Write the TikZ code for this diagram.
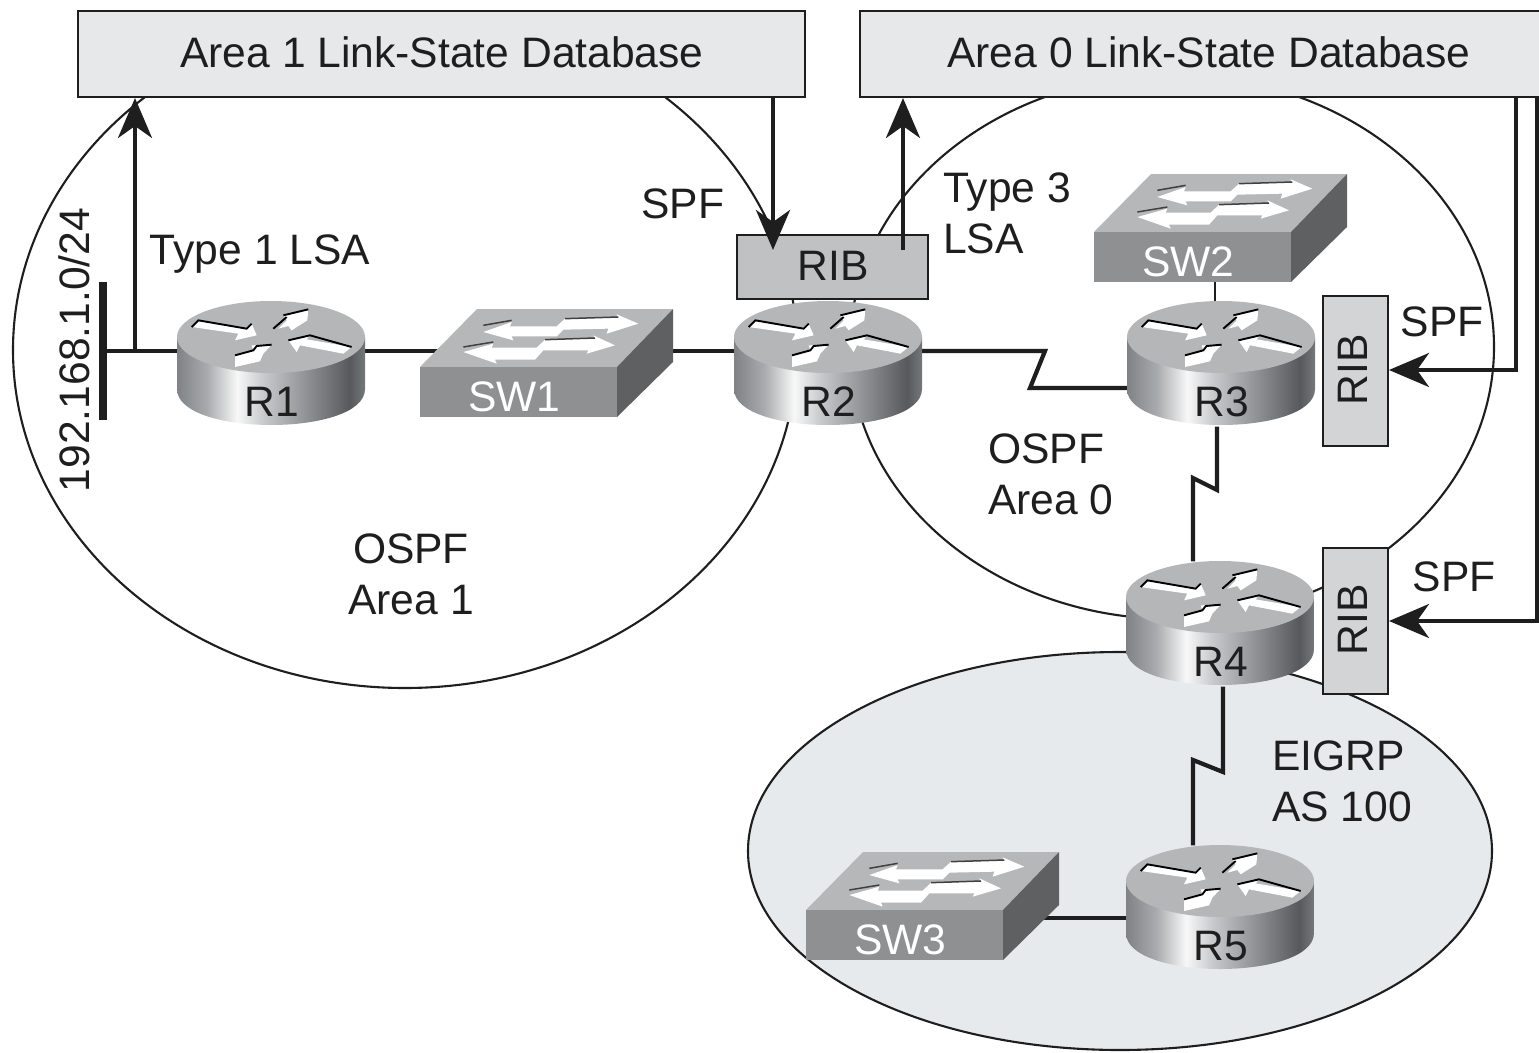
\documentclass[tikz,border=0pt]{standalone}
\usepackage{fontspec}
\setmainfont{Liberation Sans}
\usetikzlibrary{arrows.meta}
\pgfdeclarelayer{back}
\pgfsetlayers{back,main}
\definecolor{ink}{HTML}{1E1E1E}
\definecolor{dbfill}{HTML}{E6E8EA}
\definecolor{ribdark}{HTML}{BFC1C3}
\definecolor{riblight}{HTML}{D2D4D6}
\definecolor{eigrpfill}{HTML}{E7EAEC}
\definecolor{rtrtop}{HTML}{B4B6B8}
\definecolor{swfront}{HTML}{8E9092}
\definecolor{swtop}{HTML}{B5B7B9}
\definecolor{swside}{HTML}{5E6062}
\pgfdeclarehorizontalshading{routerside}{100bp}{
  rgb(0bp)=(0.50,0.51,0.52);
  rgb(25bp)=(0.50,0.51,0.52);
  rgb(33bp)=(0.66,0.67,0.68);
  rgb(41bp)=(0.97,0.97,0.97);
  rgb(48bp)=(0.78,0.79,0.80);
  rgb(60bp)=(0.55,0.56,0.57);
  rgb(71bp)=(0.34,0.35,0.36);
  rgb(75bp)=(0.46,0.47,0.48);
  rgb(100bp)=(0.46,0.47,0.48)}
\tikzset{
  txt/.style={font=\fontsize{42.6}{51}\selectfont,text=ink,inner sep=0pt},
  swlabel/.style={txt,text=white},
  box/.style={draw=ink,line width=2pt,inner sep=0pt},
  dbbox/.style={box,fill=dbfill,minimum height=86pt},
  area/.style={draw=ink,line width=2.1pt},
  link/.style={draw=ink,line width=4.2pt},
  flow/.style={draw=ink,line width=4pt,-{Stealth[length=40pt,width=34pt,inset=12pt]}},
  hold/.style={inner sep=0pt,minimum width=188pt,minimum height=125pt},
  swhold/.style={inner sep=0pt,minimum width=253pt,minimum height=107pt},
  glyph/.style={fill=white},
  edge/.style={draw=black,line width=1.9pt}
}
\newcommand{\routericon}[3]{%
  \node[hold] (#1) at (#2,#3+27) {};
  \begin{scope}[shift={(#2,#3)}]
    \path[shading=routerside] (-94,0) -- (-94,52) .. controls (-94,100) and (94,100) .. (94,52) -- (94,0) -- cycle;
    \fill[rtrtop] (0,0) ellipse [x radius=94,y radius=36];
  \end{scope}
  \begin{scope}[shift={(#2,#3)},x=0.3333pt,y=-0.3333pt]
    \fill[glyph] (-238,-30) -- (-218,-50) -- (-73,-25) -- (-58,-40) -- (-43,-5) -- (-108,10) -- (-98,-10) -- cycle;
    \path[edge] (-238,-30) -- (-218,-50) -- (-73,-25) -- (-58,-40);
    \fill[glyph] (22,-25) -- (47,-50) -- (37,-65) -- (112,-83) -- (109,-50) -- (62,-20) -- (52,-33) -- cycle;
    \path[edge] (7,-25) -- (47,-60);
    \path[edge] (37,-65) -- (112,-83);
    \fill[glyph] (52,10) -- (117,-5) -- (107,7) -- (242,30) -- (217,50) -- (87,25) -- (77,45) -- cycle;
    \path[edge] (52,10) -- (117,-5) -- (242,30);
    \fill[glyph] (-108,55) -- (-53,40) -- (-58,25) -- (2,23) -- (-23,50) -- (-33,73) -- (-108,90) -- cycle;
    \path[edge] (-108,55) -- (-53,40) -- (-43,27) -- (2,23);
  \end{scope}
  \node[txt] (#1text) at (#2+1,#3+65) {#1};
}
\newcommand{\switchicon}[3]{%
  \node[swhold] (#1) at (#2+126.5,#3-3.5) {};
  \begin{scope}[shift={(#2,#3)}]
    \fill[swtop] (0,0) -- (197,0) -- (253,-58) -- (57,-58) -- cycle;
    \fill[swside] (197,0) -- (253,-58) -- (253,-5) -- (197,50) -- cycle;
    \fill[swfront] (0,0) rectangle (197,50);
  \end{scope}
  \begin{scope}[shift={(#2,#3)},x=0.3333pt,y=-0.3333pt]
    \fill[white] (190,-105) -- (275,-135) -- (270,-122) -- (410,-122) -- (435,-145) -- (595,-148) -- (590,-158) -- (655,-130) -- (560,-100) -- (565,-115) -- (430,-112) -- (410,-92) -- (275,-92) -- (280,-80) -- cycle;
    \fill[white] (130,-45) -- (220,-70) -- (215,-58) -- (350,-58) -- (375,-82) -- (525,-85) -- (520,-95) -- (585,-65) -- (500,-40) -- (505,-50) -- (370,-50) -- (345,-22) -- (225,-22) -- (230,-10) -- cycle;
    \draw[black!75,line width=1.5pt] (190,-125) -- (275,-140);
    \draw[black!75,line width=1.5pt] (130,-60) -- (220,-75);
    \draw[black!75,line width=1.5pt] (435,-145) -- (595,-150);
    \draw[black!75,line width=1.5pt] (375,-82) -- (525,-87);
  \end{scope}
  \node[swlabel] (#1text) at (#2+94.5,#3+30) {#1};
}
\begin{document}
\begin{tikzpicture}[x=1pt,y=-1pt]
\useasboundingbox (0,0) rectangle (1539,1052);

% databases and RIBs
\node[dbbox,minimum width=727pt] (DB1) at (441.5,54) {};
\node[txt] (DB1text) at (442,52) {Area 1 Link-State Database};
\node[dbbox,minimum width=685pt] (DB0) at (1202.5,54) {};
\node[txt] (DB0text) at (1209,52) {Area 0 Link-State Database};

% devices
\routericon{R1}{271}{337}
\routericon{R2}{828}{337}
\routericon{R3}{1221}{337}
\routericon{R4}{1220}{597}
\routericon{R5}{1220}{881}
\switchicon{SW1}{420}{367}
\switchicon{SW2}{1094}{232}
\switchicon{SW3}{806}{910}

\node[box,fill=ribdark,minimum width=191pt,minimum height=64pt] (RIB2) at (832.5,267) {};
\node[txt] (RIB2text) at (833,266) {RIB};
\node[box,fill=riblight,minimum width=65pt,minimum height=150pt] (RIB3) at (1355.5,371) {};
\node[txt,rotate=90] (RIB3text) at (1353,370) {RIB};
\node[box,fill=riblight,minimum width=65pt,minimum height=146pt] (RIB4) at (1355.5,621) {};
\node[txt,rotate=90] (RIB4text) at (1353,620) {RIB};

% free points
\coordinate (barT) at (103,282);
\coordinate (barB) at (103,420);
\coordinate (barM) at (103,351);
\coordinate (tap) at (135,351);
\coordinate (spfA) at (773,250);
\coordinate (lsa3) at (903,250);
\coordinate (spfC) at (1516,370);
\coordinate (spfD) at (1537,621);

% areas and links behind the devices
\begin{pgfonlayer}{back}
  \fill[white] (0,0) rectangle (1539,1052);
  \fill[eigrpfill] (1120,851) ellipse [x radius=372,y radius=199];
  \draw[area] (1120,851) ellipse [x radius=372,y radius=199];
  \draw[area] (405,350) ellipse [x radius=392,y radius=338];
  \draw[area] (1172,347) ellipse [x radius=322,y radius=272];
  \draw[link] (barM) -- ([yshift=13pt]R1.west);
  \draw[link] ([yshift=13pt]R1.east) -- ([xshift=30pt,yshift=12.5pt]SW1.west);
  \draw[link] ([yshift=12.5pt]SW1.east) -- ([yshift=13pt]R2.west);
  \draw[link] ([yshift=13pt]R2.east) -- (1045,351) -- (1030,388) -- ([yshift=-24pt]R3.west);
  \draw[link,line width=2.8pt] ([xshift=-6pt]R3.north) -- ([xshift=-5.5pt]SW2.south);
  \draw[link] ([xshift=-4pt]R3.south) -- (1217,490) -- (1193,478) -- ([xshift=-27pt]R4.north);
  \draw[link] ([xshift=3pt]R4.south) -- (1223,772) -- (1193,760) -- ([xshift=-27pt]R5.north);
  \draw[link] ([yshift=-10pt]R5.west) -- ([xshift=-30pt,yshift=-11.5pt]SW3.east);
\end{pgfonlayer}

% network bar and flows
\draw[link,line width=7.5pt] (barT) -- (barB);
\draw[flow] (tap) -- (tap |- DB1.south);
\draw[flow] (spfA |- DB1.south) -- (spfA);
\draw[flow] (lsa3) -- (lsa3 |- DB0.south);
\draw[flow] (spfC |- DB0.south) -- (spfC) -- (spfC -| RIB3.east);
\draw[flow] (spfD |- DB0.south) -- (spfD) -- (spfD -| RIB4.east);

% labels
\node[txt,rotate=90] (netlabel) at (74,350) {192.168.1.0/24};
\node[txt] (t1) at (260,254) {Type 1 LSA};
\node[txt] (spf2) at (683,204) {SPF};
\node[txt,align=left,anchor=west] (t3) at (943,213) {Type 3\\LSA};
\node[txt] (spf3) at (1442,322) {SPF};
\node[txt] (spf4) at (1454,577) {SPF};
\node[txt,align=left,anchor=west] (a0) at (988,474) {OSPF\\Area 0};
\node[txt,align=center] (a1) at (411,574) {OSPF\\Area 1};
\node[txt,align=left,anchor=west] (as) at (1272,781) {EIGRP\\AS 100};
\end{tikzpicture}
\end{document}
